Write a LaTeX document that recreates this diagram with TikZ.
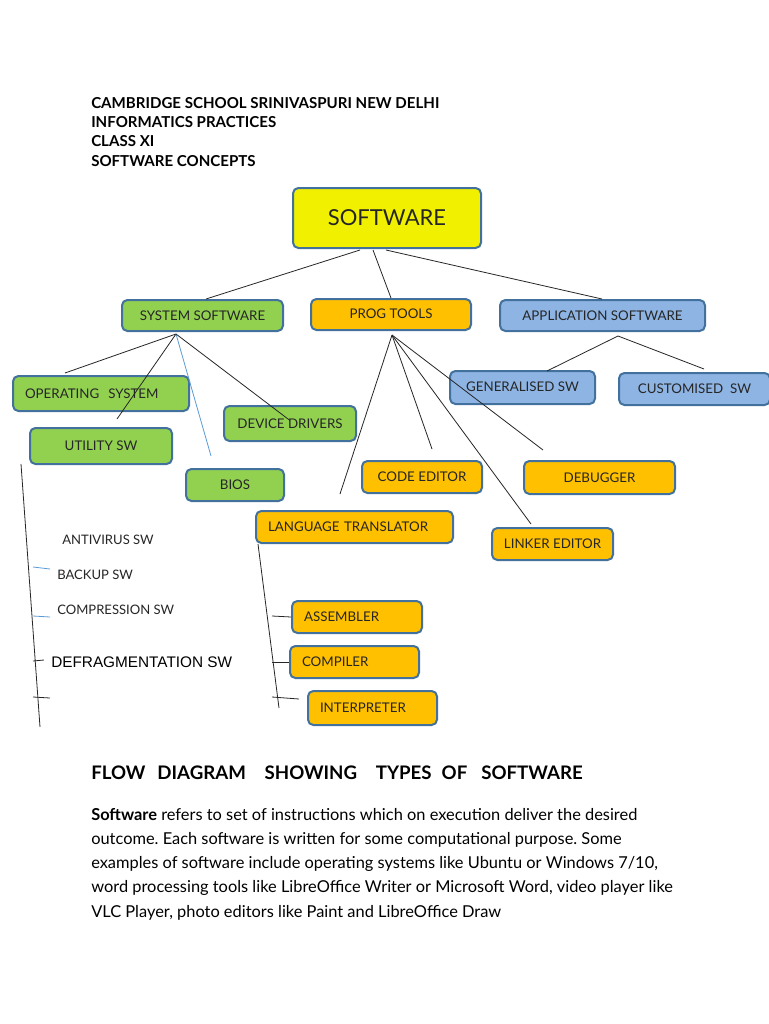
\documentclass[tikz,border=0pt]{standalone}
\usepackage{fontspec}
\setmainfont{Lato}
\newfontfamily\arialf{Liberation Sans}
\usetikzlibrary{calc}
\definecolor{bord}{HTML}{41719C}
\definecolor{cgreen}{HTML}{92D050}
\definecolor{corange}{HTML}{FFC000}
\definecolor{cblue}{HTML}{8EB4E3}
\definecolor{cyellow}{HTML}{F0F000}
\definecolor{tickblue}{HTML}{5B9BD5}
\frenchspacing
\begin{document}
\begin{tikzpicture}[x=0.75pt,y=-0.75pt,
  box/.style={draw=bord,line width=1.5pt,rounded corners=4pt,inner sep=0pt,
    font=\fontsize{10}{11}\selectfont,text=black!85},
  gbox/.style={box,fill=cgreen},
  obox/.style={box,fill=corange},
  bbox/.style={box,fill=cblue},
  ybox/.style={box,fill=cyellow,font=\fontsize{16.5}{18}\selectfont},
  conn/.style={line width=0.6pt,black!85},
  bconn/.style={line width=0.6pt,tickblue},
  head/.style={anchor=west,inner sep=0pt,font=\bfseries\fontsize{11.3}{13}\selectfont},
  para/.style={anchor=west,inner sep=0pt,font=\fontsize{12.3}{14}\selectfont},
  small/.style={anchor=west,inner sep=0pt,font=\fontsize{9.8}{11}\selectfont,text=black!85}
]
\useasboundingbox (0,0) rectangle (768,1024);
\fill[white] (0,0) rectangle (768,1024);

% header
\node[head] (h1) at (91,103) {CAMBRIDGE SCHOOL SRINIVASPURI NEW DELHI};
\node[head] (h2) at (91,122) {INFORMATICS PRACTICES};
\node[head] (h3) at (91,141) {CLASS XI};
\node[head] (h4) at (91,161) {SOFTWARE CONCEPTS};

% boxes: centre, size
\node[ybox,minimum width=188*0.75pt,minimum height=60*0.75pt] (sw) at (387,218) {SOFTWARE};
\node[gbox,minimum width=161*0.75pt,minimum height=31*0.75pt] (sys) at (202.5,315.5) {SYSTEM SOFTWARE};
\node[obox,minimum width=160*0.75pt,minimum height=31*0.75pt] (prog) at (391,314.5) {\raisebox{1.5pt}{PROG TOOLS}};
\node[bbox,minimum width=205*0.75pt,minimum height=31*0.75pt] (app) at (602.5,315.5) {APPLICATION SOFTWARE};

\node[gbox,minimum width=176*0.75pt,minimum height=35*0.75pt,text width=152*0.75pt,inner xsep=12*0.75pt,align=left] (os) at (101,393.5) {OPERATING\ \ SYSTEM};
\node[gbox,minimum width=142*0.75pt,minimum height=36*0.75pt] (util) at (101,446) {UTILITY SW};
\node[gbox,minimum width=132*0.75pt,minimum height=35*0.75pt] (dd) at (290,423.5) {DEVICE DRIVERS};
\node[gbox,minimum width=98*0.75pt,minimum height=32*0.75pt] (bios) at (235,485) {BIOS};

\node[bbox,minimum width=145*0.75pt,minimum height=33*0.75pt] (gen) at (522.5,387.5) {\raisebox{1pt}{GENERALISED SW}};
\node[bbox,minimum width=151*0.75pt,minimum height=32*0.75pt] (cus) at (694.5,389) {CUSTOMISED\ \ SW};

\node[obox,minimum width=120*0.75pt,minimum height=32*0.75pt] (ce) at (422,477) {CODE EDITOR};
\node[obox,minimum width=151*0.75pt,minimum height=33*0.75pt] (db) at (599.5,477.5) {DEBUGGER};
\node[obox,minimum width=197*0.75pt,minimum height=32*0.75pt,text width=173*0.75pt,inner xsep=12*0.75pt,align=left] (lt) at (354.5,527) {LANGUAGE TRANSLATOR};
\node[obox,minimum width=121*0.75pt,minimum height=32*0.75pt] (le) at (552.5,544) {LINKER EDITOR};

\node[obox,minimum width=130*0.75pt,minimum height=32*0.75pt,text width=106*0.75pt,inner xsep=12*0.75pt,align=left] (asm) at (357,617) {ASSEMBLER};
\node[obox,minimum width=129*0.75pt,minimum height=32*0.75pt,text width=105*0.75pt,inner xsep=12*0.75pt,align=left] (comp) at (354.5,662) {COMPILER};
\node[obox,minimum width=129*0.75pt,minimum height=34*0.75pt,text width=105*0.75pt,inner xsep=12*0.75pt,align=left] (interp) at (372.5,708) {INTERPRETER};

% utility list labels
\node[small] (anti) at (62,540) {ANTIVIRUS SW};
\node[small] (backup) at (57,575) {BACKUP SW};
\node[small] (compr) at (57,610) {COMPRESSION SW};
\node[anchor=west,inner sep=0pt,font=\arialf\fontsize{11.5}{13}\selectfont] (defrag) at (51,662) {DEFRAGMENTATION SW};

% apex coordinates
\coordinate (sysA) at ($(sys.south)+(-26.5,2)$);
\coordinate (progA) at ($(prog.south)+(1,4)$);
\coordinate (appA) at ($(app.south)+(15.5,4)$);

% software connectors
\draw[conn] ($(sw.south)+(-27,1)$) -- ($(sys.north)+(3.5,0)$);
\draw[conn] ($(sw.south)+(-14,1)$) -- (prog.north);
\draw[conn] ($(sw.south)+(-1,1)$) -- ($(app.north)+(-0.5,0)$);

% system software connectors
\draw[conn] (sysA) -- ($(os.north)+(-36,-2)$);
\draw[conn] (sysA) -- ($(util.north)+(16,-8)$);
\draw[bconn] (sysA) -- ($(bios.north)+(-24,-12)$);
\draw[conn] (sysA) -- ($(dd.center)+(0,-3)$);

% prog tools connectors
\draw[conn] (progA) -- ($(lt.north)+(-14.5,-16)$);
\draw[conn] (progA) -- ($(ce.north)+(10,-11)$);
\draw[conn] (progA) -- ($(le.north)+(-21.5,-3)$);
\draw[conn] (progA) -- ($(db.north)+(-56.5,-10)$);

% application connectors
\draw[conn] (appA) -- ($(gen.north)+(24.5,1)$);
\draw[conn] (appA) -- ($(cus.north)+(9.5,-3)$);

% utility vertical line and ticks
\coordinate (uTop) at ($(util.south west)+(-8,-1)$);
\coordinate (uBot) at (40,727);
\draw[conn] (uTop) -- (uBot);
\coordinate (t1) at (33,567);
\coordinate (t2) at (33,616);
\coordinate (t3) at (33,661);
\coordinate (t4) at (33,697);
\coordinate (t4e) at (50,698);
\draw[bconn] (t1) -- ($(backup.west)+(-7,-6)$);
\draw[bconn] (t2) -- ($(compr.west)+(-7,7)$);
\draw[conn] (t3) -- ($(defrag.west)+(-7,-2)$);
\draw[conn] (t4) -- (t4e);

% language translator line and ticks
\coordinate (lTop) at ($(lt.south west)+(3,0)$);
\coordinate (lBot) at (279,708);
\draw[conn] (lTop) -- (lBot);
\coordinate (s1) at (272,616);
\coordinate (s2) at (272,662);
\coordinate (s3) at (272,697);
\draw[conn] (s1) -- (asm.west);
\draw[conn] (s2) -- (comp.west);
\draw[conn] (s3) -- ($(interp.west)+(-8,-9)$);

% bottom text
\node[anchor=west,inner sep=0pt,font=\bfseries\fontsize{14}{16}\selectfont] (flow) at (91,773) {FLOW\hspace{9pt}DIAGRAM\hspace{14pt}SHOWING\hspace{14pt}TYPES\hspace{7.5pt}OF\hspace{10.5pt}SOFTWARE};
\node[para] (p1) at (91,815) {\textbf{Software} refers to set of instructions which on execution deliver the desired};
\node[para] (p2) at (91,840) {outcome. Each software is written for some computational purpose. Some};
\node[para] (p3) at (91,864) {examples of software include operating systems like Ubuntu or Windows 7/10,};
\node[para] (p4) at (91,888) {word processing tools like LibreOffice Writer or Microsoft Word, video player like};
\node[para] (p5) at (91,913) {VLC Player, photo editors like Paint and LibreOffice Draw};
\end{tikzpicture}
\end{document}
